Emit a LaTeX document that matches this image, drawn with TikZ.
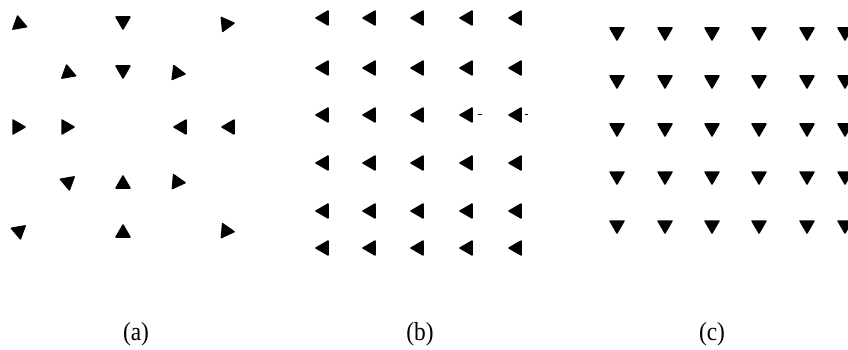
\documentclass[tikz,border=0pt]{standalone}
\usepackage{fontspec}
\setmainfont{Liberation Serif}
\newfontfamily\labelfont[FakeStretch=0.9]{Liberation Serif}
\usetikzlibrary{shapes.geometric}

\begin{document}
\begin{tikzpicture}[
  x=1pt,y=-1pt,
  tri/.style={regular polygon,regular polygon sides=3,fill=black,inner sep=0pt,minimum size=19pt,rounded corners=1pt},
  speck/.style={line width=1pt},
  panellabel/.style={font=\labelfont\fontsize{26}{30}\selectfont,inner sep=0pt},
]
\useasboundingbox (0,0) rectangle (848,350);

% (a) mixed directions
\node[tri,rotate=10]  (a11) at (19,24) {};
\node[tri,rotate=180] (a12) at (123,21) {};
\node[tri,rotate=-84] (a13) at (226,24) {};
\node[tri,rotate=10]  (a21) at (68,73) {};
\node[tri,rotate=180] (a22) at (123,70) {};
\node[tri,rotate=-97] (a23) at (177,73) {};
\node[tri,rotate=-90] (a31) at (17,127) {};
\node[tri,rotate=-90] (a32) at (66,127) {};
\node[tri,rotate=90]  (a33) at (182,127) {};
\node[tri,rotate=90]  (a34) at (230,127) {};
\node[tri,rotate=70]  (a41) at (68,182) {};
\node[tri]            (a42) at (123,184) {};
\node[tri,rotate=-95] (a43) at (177,182) {};
\node[tri,rotate=70]  (a51) at (19,231) {};
\node[tri]            (a52) at (123,233) {};
\node[tri,rotate=-95] (a53) at (226,231) {};

% (b) all pointing left
\foreach \y [count=\r] in {18,68,115,163,211,248}
  \foreach \x [count=\c] in {324,371,419,468,517}
    \node[tri,rotate=90] (b\r\c) at (\x,\y) {};
\draw[speck] (b34) ++(10,0) -- ++(4,0);
\draw[speck] (b35) ++(8,0) -- ++(3,0);

% (c) all pointing down
\foreach \y [count=\r] in {32,80,128,176,225}
  \foreach \x [count=\c] in {617,665,712,759,807,845}
    \node[tri,rotate=180] (c\r\c) at (\x,\y) {};

\node[panellabel] (la) at (136,334) {(a)};
\node[panellabel] (lb) at (420,334) {(b)};
\node[panellabel] (lc) at (712,334) {(c)};
\end{tikzpicture}
\end{document}
